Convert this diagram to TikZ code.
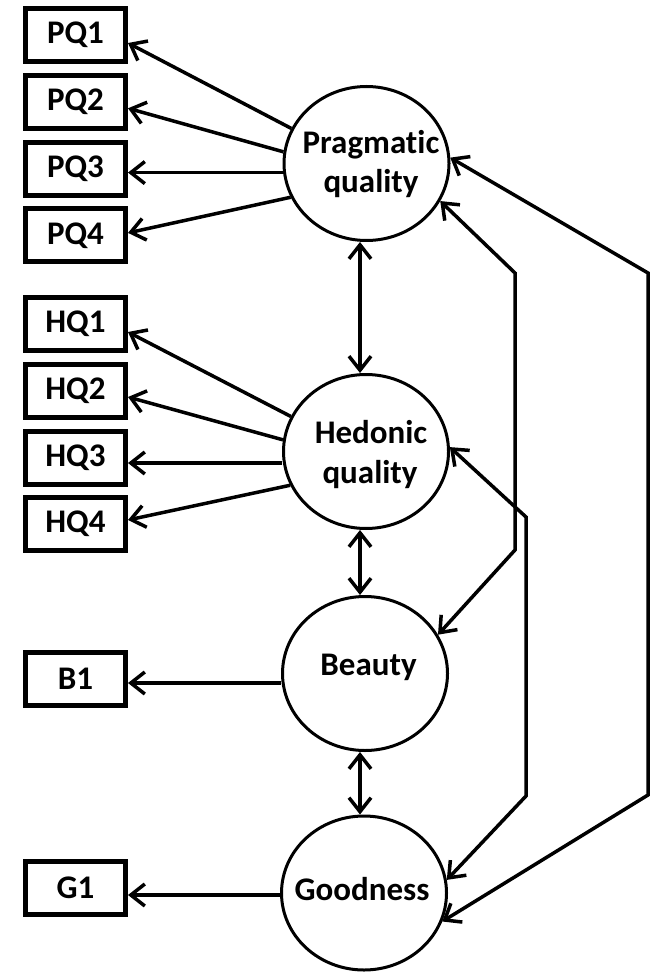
\documentclass[tikz,border=0pt]{standalone}
\usepackage{fontspec}
\setmainfont{Carlito}[Ligatures=CommonOff]
\usetikzlibrary{shapes.geometric,arrows.meta,calc}

\begin{document}
\begin{tikzpicture}[x=1pt,y=-1pt,
  labelfont/.style={font=\fontsize{33}{40}\selectfont\bfseries},
  obs/.style={rectangle, draw, line width=5pt, minimum width=100pt,
    minimum height=53pt, inner sep=0pt, fill=white, labelfont},
  latent/.style={ellipse, draw, line width=3pt, minimum width=165pt,
    minimum height=154pt, inner sep=0pt},
  caption/.style={anchor=base, inner sep=0pt, labelfont},
  >={Straight Barb[length=14pt,width=22pt]},
  oneway/.style={line width=3.5pt, ->},
  twoway/.style={line width=3.5pt, <->}]

\useasboundingbox (0,0) rectangle (654,973);

% observed indicators
\node[obs] (pq1) at (75.5,35)    {PQ1};
\node[obs] (pq2) at (75.5,101.8) {PQ2};
\node[obs] (pq3) at (75.5,168.6) {PQ3};
\node[obs] (pq4) at (75.5,235.4) {PQ4};
\node[obs] (hq1) at (75.5,323.5) {HQ1};
\node[obs] (hq2) at (75.5,390.5) {HQ2};
\node[obs] (hq3) at (75.5,457.5) {HQ3};
\node[obs] (hq4) at (75.5,524)   {HQ4};
\node[obs] (b1)  at (75.5,678.5) {B1};
\node[obs] (g1)  at (75.5,888)   {G1};

% latent constructs
\node[latent] (prag) at (366.5,163.5) {};
\node[latent] (hed)  at (366,451.5)   {};
\node[latent] (beau) at (365,673.5)   {};
\node[latent] (good) at (364,893)     {};

\node[caption] (pragA) at (371,154) {Pragmatic};
\node[caption] (pragB) at (371,193) {quality};
\node[caption] (hedA)  at (371,443) {Hedonic};
\node[caption] (hedB)  at (370,483) {quality};
\node[caption] (beauA) at (368.5,675) {Beauty};
\node[caption] (goodA) at (362,900) {Goodness};

% loadings
\coordinate (pq3in) at ([yshift=-4pt]pq3.east);
\coordinate (hq3in) at ([yshift=-5.5pt]hq3.east);
\coordinate (b1in)  at ([yshift=-4.5pt]b1.east);
\coordinate (g1in)  at ([yshift=-7pt]g1.east);

\draw[oneway] (prag.155) -- ([yshift=-8pt]pq1.east);
\draw[oneway] (prag.172) -- ([yshift=-6.5pt]pq2.east);
\draw[oneway] (pq3in -| prag.west) -- (pq3in);
\draw[oneway] (prag.204) -- ([yshift=2.5pt]pq4.east);

\draw[oneway] (hed.155) -- ([yshift=-8.5pt]hq1.east);
\draw[oneway] (hed.172) -- ([yshift=-6.5pt]hq2.east);
\draw[oneway] (hq3in -| hed.west) -- (hq3in);
\draw[oneway] (hed.204) -- ([yshift=4pt]hq4.east);

\draw[oneway] (b1in -| beau.west) -- (b1in);
\draw[oneway] (g1in -| good.west) -- (g1in);

% correlations between neighbouring constructs
\draw[twoway] ([xshift=-6.5pt]prag.south) -- ([xshift=-6pt]hed.north);
\draw[twoway] ([xshift=-6pt]hed.south) -- ([xshift=-5pt]beau.north);
\draw[twoway] ([xshift=-5pt]beau.south) -- ([xshift=-4pt]good.north);

% correlations routed along the right side
\coordinate (bpTop) at (515,273);
\coordinate (bpBot) at (515,550);
\draw[twoway] (beau.28) -- (bpBot) -- (bpTop) -- (prag.333);

\coordinate (hgTop) at (526,517);
\coordinate (hgBot) at (526,796);
\draw[twoway] (hed.3) -- (hgTop) -- (hgBot) -- (good.9);

\coordinate (pgTop) at (648,273);
\coordinate (pgBot) at (648,795);
\draw[twoway] (prag.4) -- (pgTop) -- (pgBot) -- (good.340);

\end{tikzpicture}
\end{document}
